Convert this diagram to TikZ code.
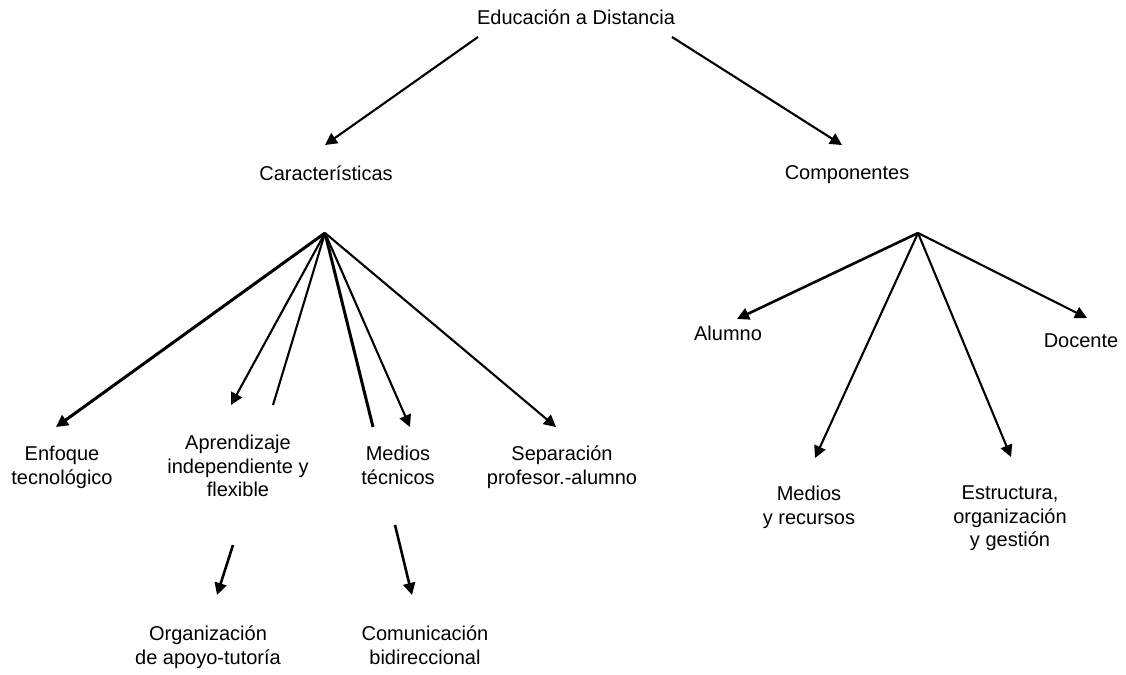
\documentclass[tikz,border=0pt]{standalone}
\usepackage{fontspec}
\setmainfont{Liberation Sans}
\usetikzlibrary{arrows.meta}
\begin{document}
\begin{tikzpicture}[x=1pt,y=-1pt,
  lbl/.style={anchor=north,inner sep=0pt,align=center,font=\fontsize{20}{23.5}\selectfont},
  arr/.style={line width=2.1pt,-{Triangle[length=12pt,width=12pt]}},
  ln/.style={line width=2.1pt},
  thk/.style={line width=3pt}]
\useasboundingbox (0,0) rectangle (1126,674);
% nodes
\node[lbl] (ed)   at (576,10)  {Educación a Distancia};
\node[lbl] (car)  at (326,166) {Características};
\node[lbl] (comp) at (847,165) {Componentes};
\node[lbl] (enf)  at (62,446)  {Enfoque\\tecnológico};
\node[lbl] (apr)  at (238,435) {Aprendizaje\\independiente y\\flexible};
\node[lbl] (med)  at (398,446) {Medios\\técnicos};
\node[lbl] (sep)  at (562,446) {Separación\\profesor.-alumno};
\node[lbl] (org)  at (208,626) {Organización\\de apoyo-tutoría};
\node[lbl] (com)  at (425,626) {Comunicación\\bidireccional};
\node[lbl] (alu)  at (728,326) {Alumno};
\node[lbl] (doc)  at (1081,334) {Docente};
\node[lbl] (mre)  at (809,486) {Medios\\y recursos};
\node[lbl] (est)  at (1010,486) {Estructura,\\organización\\y gestión};
% connection points
\coordinate (edL) at (478,37);
\coordinate (edR) at (672,37);
\coordinate (carT) at (325,145);
\coordinate (compT) at (842,145);
\coordinate (cA) at (325,233);
\coordinate (pA) at (918,233);
\coordinate (enfT) at (56,427);
\coordinate (aprT) at (231,405);
\coordinate (aprL) at (273,405);
\coordinate (medL) at (373,427);
\coordinate (medT) at (410,427);
\coordinate (sepT) at (556,427);
\coordinate (aluT) at (737,319);
\coordinate (docT) at (1087,318);
\coordinate (mreT) at (815,458);
\coordinate (estT) at (1011,457);
\coordinate (orgS) at (233,545);
\coordinate (orgT) at (217,595);
\coordinate (comS) at (395,525);
\coordinate (comT) at (412,595);
% connectors
\draw[arr] (edL) -- (carT);
\draw[arr] (edR) -- (compT);
\draw[arr,line width=3pt] (cA) -- (enfT);
\draw[arr] (cA) -- (aprT);
\draw[ln] (cA) -- (aprL);
\draw[thk] (cA) -- (medL);
\draw[arr] (cA) -- (medT);
\draw[arr] (cA) -- (sepT);
\draw[arr,line width=2.6pt] (pA) -- (aluT);
\draw[arr] (pA) -- (docT);
\draw[arr] (pA) -- (mreT);
\draw[arr] (pA) -- (estT);
\draw[arr,line width=2.6pt] (orgS) -- (orgT);
\draw[arr,line width=2.6pt] (comS) -- (comT);
\end{tikzpicture}
\end{document}
